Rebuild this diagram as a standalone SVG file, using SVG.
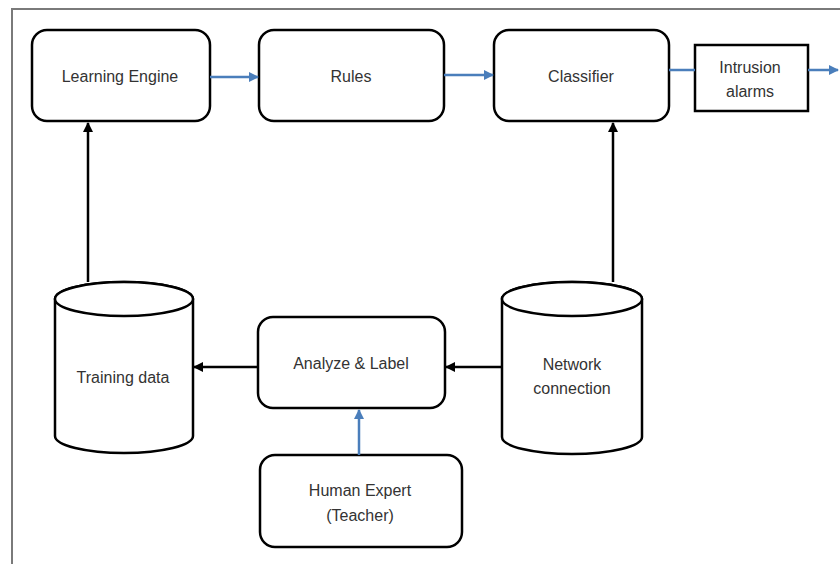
<svg xmlns="http://www.w3.org/2000/svg" width="840" height="564" viewBox="0 0 840 564">
  <style>
    .box { fill: #ffffff; stroke: #000000; stroke-width: 2.5; }
    .label { font-family: "Liberation Sans", Arial, sans-serif; font-size: 16px; fill: #333333; text-anchor: middle; }
    .blk { stroke: #000000; stroke-width: 2.5; fill: none; }
    .blu { stroke: #4a7ebb; stroke-width: 2.5; fill: none; }
  </style>
  <defs>
    <marker id="headBlack" viewBox="0 0 10 10" refX="9" refY="5" markerWidth="4" markerHeight="4" orient="auto" markerUnits="strokeWidth">
      <path d="M0,0 L10,5 L0,10 Z" fill="#000000"/>
    </marker>
    <marker id="headBlue" viewBox="0 0 10 10" refX="9" refY="5" markerWidth="4" markerHeight="4" orient="auto" markerUnits="strokeWidth">
      <path d="M0,0 L10,5 L0,10 Z" fill="#4a7ebb"/>
    </marker>
  </defs>

  <rect width="840" height="564" fill="#ffffff"/>
  <!-- outer frame -->
  <path d="M12,564 L12,9 L840,9" fill="none" stroke="#7a7a7a" stroke-width="2"/>

  <g id="learning-engine">
    <rect class="box" x="32" y="30" width="178" height="91" rx="15"/>
    <text class="label" x="120" y="82">Learning Engine</text>
  </g>

  <g id="rules">
    <rect class="box" x="259" y="30" width="185" height="91" rx="15"/>
    <text class="label" x="351" y="82">Rules</text>
  </g>

  <g id="classifier">
    <rect class="box" x="494" y="30" width="175" height="91" rx="15"/>
    <text class="label" x="581" y="82">Classifier</text>
  </g>

  <g id="intrusion-alarms">
    <rect class="box" x="695" y="45" width="113" height="66"/>
    <text class="label" x="750" y="73">Intrusion</text>
    <text class="label" x="750" y="97">alarms</text>
  </g>

  <g id="training-data">
    <path class="box" d="M55,299 L55,436 A69,17 0 0 0 193,436 L193,299 A69,17 0 0 0 55,299 Z"/>
    <ellipse class="box" cx="124" cy="299" rx="69" ry="17"/>
    <text class="label" x="123" y="383">Training data</text>
  </g>

  <g id="analyze-label">
    <rect class="box" x="258" y="317" width="187" height="91" rx="15"/>
    <text class="label" x="351" y="369">Analyze &amp; Label</text>
  </g>

  <g id="network-connection">
    <path class="box" d="M502,299 L502,437 A70,17 0 0 0 642,437 L642,299 A70,17 0 0 0 502,299 Z"/>
    <ellipse class="box" cx="572" cy="299" rx="70" ry="17"/>
    <text class="label" x="572" y="370">Network</text>
    <text class="label" x="572" y="394">connection</text>
  </g>

  <g id="human-expert">
    <rect class="box" x="260" y="455" width="202" height="92" rx="15"/>
    <text class="label" x="360" y="496">Human Expert</text>
    <text class="label" x="360" y="521">(Teacher)</text>
  </g>

  <g id="connectors">
    <line class="blu" x1="210" y1="77" x2="258" y2="77" marker-end="url(#headBlue)"/>
    <line class="blu" x1="444" y1="75" x2="493" y2="75" marker-end="url(#headBlue)"/>
    <line class="blu" x1="669" y1="70" x2="695" y2="70"/>
    <line class="blu" x1="808" y1="70" x2="838" y2="70" marker-end="url(#headBlue)"/>
    <line class="blk" x1="88" y1="282" x2="88" y2="123" marker-end="url(#headBlack)"/>
    <line class="blk" x1="613" y1="282" x2="613" y2="123" marker-end="url(#headBlack)"/>
    <line class="blk" x1="502" y1="367" x2="446" y2="367" marker-end="url(#headBlack)"/>
    <line class="blk" x1="258" y1="367" x2="194" y2="367" marker-end="url(#headBlack)"/>
    <line class="blu" x1="359" y1="455" x2="359" y2="410" marker-end="url(#headBlue)"/>
  </g>
</svg>
